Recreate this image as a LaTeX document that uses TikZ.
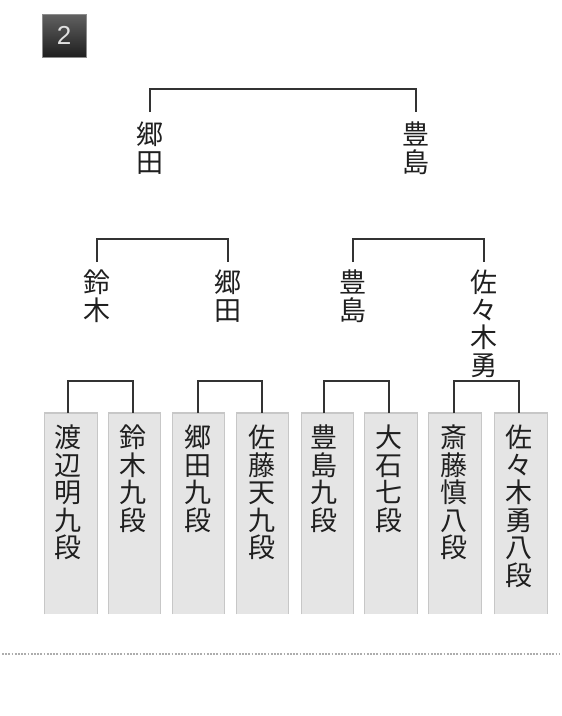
\documentclass[tikz,border=0pt]{standalone}
\usepackage{fontspec}
\newfontfamily\jp{Noto Sans CJK JP}
\newfontfamily\badgefont{Liberation Sans}
\begin{document}
\begin{tikzpicture}[x=1pt,y=-1pt,
  pname/.style={font=\jp\fontsize{27}{27.5}\selectfont, align=center, inner sep=0pt, anchor=north, text=black!88},
  pbox/.style={fill=black!10, minimum width=52pt, minimum height=201pt, inner sep=0pt, anchor=north},
  boxedge/.style={draw=black!22, line width=1.2pt},
  conn/.style={draw=black!80, line width=2pt},
  badge/.style={draw=black!45, line width=0.8pt, top color=black!62, bottom color=black!88, minimum width=44pt, minimum height=43pt, inner sep=0pt, text=black!12, font=\badgefont\fontsize{26}{26}\selectfont},
  dotline/.style={draw=black!32, line width=1.8pt, dash pattern=on 1.8pt off 1.4pt}
]
\useasboundingbox (0,0) rectangle (562,716);

% badge
\node[badge] (badge) at (64,35.5) {2};

% final
\node[pname] (f1) at (150,122) {郷\\田};
\node[pname] (f2) at (416,122) {豊\\島};
\draw[conn] ([yshift=10pt]f1.north) -- ++(0,-23) -| ([yshift=10pt]f2.north);

% semifinal
\node[pname] (s1) at (97,270) {鈴\\木};
\node[pname] (s2) at (228,270) {郷\\田};
\node[pname] (s3) at (353,270) {豊\\島};
\node[pname] (s4) at (484,270) {佐\\々\\木\\勇};
\draw[conn] ([yshift=8pt]s1.north) -- ++(0,-23) -| ([yshift=8pt]s2.north);
\draw[conn] ([yshift=8pt]s3.north) -- ++(0,-23) -| ([yshift=8pt]s4.north);

% players
\node[pbox] (b1) at (71,413) {};
\node[pbox] (b2) at (134.5,413) {};
\node[pbox] (b3) at (198.5,413) {};
\node[pbox] (b4) at (262.5,413) {};
\node[pbox] (b5) at (327.5,413) {};
\node[pbox] (b6) at (391,413) {};
\node[pbox] (b7) at (455,413) {};
\node[pbox] (b8) at (521,413) {};
\foreach \b in {b1,b2,b3,b4,b5,b6,b7,b8}{
  \draw[boxedge] (\b.south west) |- (\b.north east) -- (\b.south east);
}
\node[pname] (n1) at (68,425) {渡\\辺\\明\\九\\段};
\node[pname] (n2) at (133,425) {鈴\\木\\九\\段};
\node[pname] (n3) at (198,425) {郷\\田\\九\\段};
\node[pname] (n4) at (262,425) {佐\\藤\\天\\九\\段};
\node[pname] (n5) at (324,425) {豊\\島\\九\\段};
\node[pname] (n6) at (389,425) {大\\石\\七\\段};
\node[pname] (n7) at (454,425) {斎\\藤\\慎\\八\\段};
\node[pname] (n8) at (519,425) {佐\\々\\木\\勇\\八\\段};

\draw[conn] (n1 |- b1.north) -- ++(0,-32) -| (n2 |- b2.north);
\draw[conn] (n3 |- b3.north) -- ++(0,-32) -| (n4 |- b4.north);
\draw[conn] (n5 |- b5.north) -- ++(0,-32) -| (n6 |- b6.north);
\draw[conn] (n7 |- b7.north) -- ++(0,-32) -| (n8 |- b8.north);

% separator
\draw[dotline] (2,654) -- (560,654);
\end{tikzpicture}
\end{document}
